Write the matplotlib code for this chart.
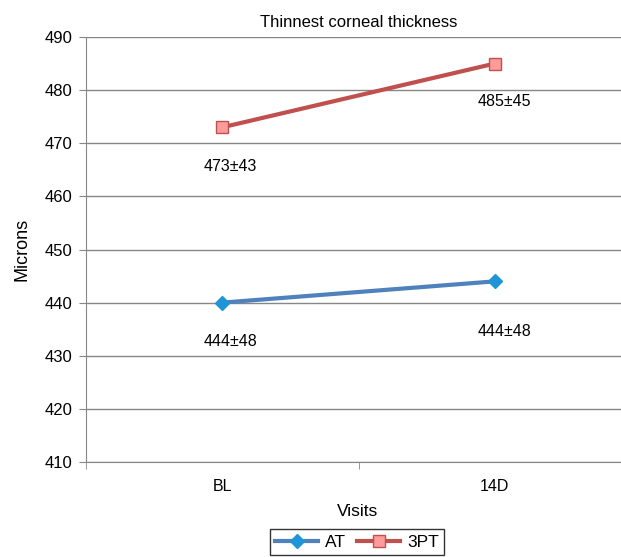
import matplotlib
matplotlib.use("Agg")
import matplotlib.pyplot as plt

plt.rcParams['font.family'] = ['Liberation Sans', 'DejaVu Sans']

visits = ["BL", "14D"]
at_vals = [440, 444]
pt3_vals = [473, 485]
at_labels = ["444±48", "444±48"]
pt3_labels = ["473±43", "485±45"]

fig = plt.figure(figsize=(6.21, 5.57), dpi=100)
ax = fig.add_axes([86 / 621, 1 - 462 / 557, 545 / 621, 425 / 557])

x = [0, 1]
ax.plot(x, at_vals, color="#4F81BD", lw=3, marker="D", ms=7,
        mfc="#1F95D8", mec="#1F95D8", label="AT", zorder=3)
ax.plot(x, pt3_vals, color="#C0504D", lw=3, marker="s", ms=8,
        mfc="#FF9B9B", mec="#C0504D", mew=1, label="3PT", zorder=3)

# value labels sit under each point
for i, t in enumerate(pt3_labels):
    off = (6, -28) if i == 0 else (7, -27)
    ax.annotate(t, (x[i], pt3_vals[i]), xytext=off, textcoords="offset points",
                ha="center", va="center", fontsize=11.5)
for i, t in enumerate(at_labels):
    off = (6, -28) if i == 0 else (7, -36)
    ax.annotate(t, (x[i], at_vals[i]), xytext=off, textcoords="offset points",
                ha="center", va="center", fontsize=11.5)

ax.set_xlim(-0.5, 1.5)
ax.set_ylim(410, 490)
ax.set_yticks(range(410, 491, 10))
ax.set_xticks(x)
ax.set_xticklabels(visits)
ax.set_xticks([-0.5, 0.5, 1.5], minor=True)
ax.tick_params(axis="x", which="major", length=0, pad=12, labelsize=11.5)
ax.tick_params(axis="x", which="minor", length=5, color="#878787")
ax.tick_params(axis="y", length=5, color="#878787", labelsize=12, pad=5)
ax.grid(axis="y", color="#878787", lw=1)
ax.set_axisbelow(True)
for s in ["top", "right"]:
    ax.spines[s].set_visible(False)
for s in ["left", "bottom"]:
    ax.spines[s].set_color("#878787")

ax.set_title("Thinnest corneal thickness", fontsize=12, pad=7)
ax.set_ylabel("Microns", fontsize=13, labelpad=10)
fig.text(358 / 621, 1 - 512 / 557, "Visits", ha="center", va="center", fontsize=12.5)

leg = ax.legend(loc="center", bbox_to_anchor=(357 / 621, 1 - 542 / 557),
                bbox_transform=fig.transFigure, ncol=2, fontsize=12.5,
                frameon=True, fancybox=False, edgecolor="black",
                handlelength=2.5, columnspacing=0.6, handletextpad=0.4,
                borderpad=0.3)
leg.get_frame().set_linewidth(1)

fig.savefig("out.png", dpi=100)
